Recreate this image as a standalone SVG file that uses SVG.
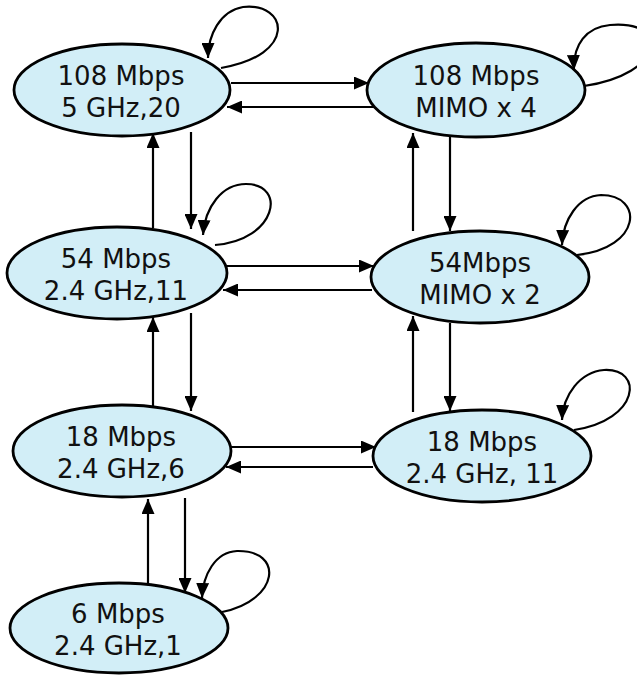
<svg xmlns="http://www.w3.org/2000/svg" width="637" height="675" viewBox="0 0 637 675">
  <style>
    .node ellipse { fill: #D2EEF7; stroke: #000; stroke-width: 2.8; }
    .node text { font-family: "DejaVu Sans", Verdana, sans-serif; font-size: 26px; fill: #111; text-anchor: middle; }
    .edge { fill: none; stroke: #000; stroke-width: 2.2; marker-end: url(#arrow); }
  </style>
  <defs>
    <marker id="arrow" markerUnits="userSpaceOnUse" markerWidth="15" markerHeight="13" viewBox="0 0 15 13" refX="15" refY="6.5" orient="auto">
      <path d="M0,0 L15,6.5 L0,13 z" fill="#000"/>
    </marker>
  </defs>

  <g id="connectors">
    <!-- top row -->
    <path class="edge" d="M231,83 L369,83"/>
    <path class="edge" d="M374,107 L227,107"/>
    <!-- left column, top pair -->
    <path class="edge" d="M153,228 L153,133"/>
    <path class="edge" d="M191,132 L191,229"/>
    <!-- right column, top pair -->
    <path class="edge" d="M413,231 L413,133"/>
    <path class="edge" d="M450,137 L450,231"/>
    <!-- middle row -->
    <path class="edge" d="M226,266 L374,266"/>
    <path class="edge" d="M372,290 L223,290"/>
    <!-- left column, middle pair -->
    <path class="edge" d="M153,406 L153,317"/>
    <path class="edge" d="M191,313 L191,411"/>
    <!-- right column, middle pair -->
    <path class="edge" d="M413,412 L413,316"/>
    <path class="edge" d="M450,323 L450,411"/>
    <!-- lower row -->
    <path class="edge" d="M231,447 L376,447"/>
    <path class="edge" d="M373,467 L226,467"/>
    <!-- bottom pair -->
    <path class="edge" d="M148,584 L148,499"/>
    <path class="edge" d="M185,498 L185,593"/>
    <!-- self loops -->
    <path class="edge" d="M221,68 C298,55 288,2 243,7 C220,11 208,35 208,58"/>
    <path class="edge" d="M584,86 C665,74 672,20 610,25 C586,27 573,45 574,70"/>
    <path class="edge" d="M215,245 C277,240 287,184 246,184 C222,184 205,207 203,235"/>
    <path class="edge" d="M577,255 C642,248 644,195 601,195 C578,196 563,220 562,245"/>
    <path class="edge" d="M574,430 C640,420 644,368 604,370 C580,372 563,395 562,420"/>
    <path class="edge" d="M222,612 C280,600 284,550 237,551 C215,552 203,575 202,598"/>
  </g>

  <g id="n108-5ghz" class="node">
    <ellipse cx="122" cy="90" rx="108" ry="46"/>
    <text x="121" y="85">108 Mbps</text>
    <text x="121" y="117">5 GHz,20</text>
  </g>
  <g id="n108-mimo4" class="node">
    <ellipse cx="476" cy="90" rx="109" ry="47"/>
    <text x="476" y="85">108 Mbps</text>
    <text x="476" y="117">MIMO x 4</text>
  </g>
  <g id="n54-24ghz11" class="node">
    <ellipse cx="117" cy="273" rx="110" ry="46"/>
    <text x="116" y="268">54 Mbps</text>
    <text x="116" y="300">2.4 GHz,11</text>
  </g>
  <g id="n54-mimo2" class="node">
    <ellipse cx="480" cy="277" rx="109" ry="46"/>
    <text x="480" y="272">54Mbps</text>
    <text x="480" y="304">MIMO x 2</text>
  </g>
  <g id="n18-24ghz6" class="node">
    <ellipse cx="122" cy="451" rx="109" ry="46"/>
    <text x="121" y="446">18 Mbps</text>
    <text x="121" y="478">2.4 GHz,6</text>
  </g>
  <g id="n18-24ghz11" class="node">
    <ellipse cx="482" cy="456" rx="109" ry="46"/>
    <text x="482" y="451">18 Mbps</text>
    <text x="482" y="483">2.4 GHz, 11</text>
  </g>
  <g id="n6-24ghz1" class="node">
    <ellipse cx="119" cy="628" rx="109" ry="45"/>
    <text x="118" y="623">6 Mbps</text>
    <text x="118" y="655">2.4 GHz,1</text>
  </g>
</svg>
